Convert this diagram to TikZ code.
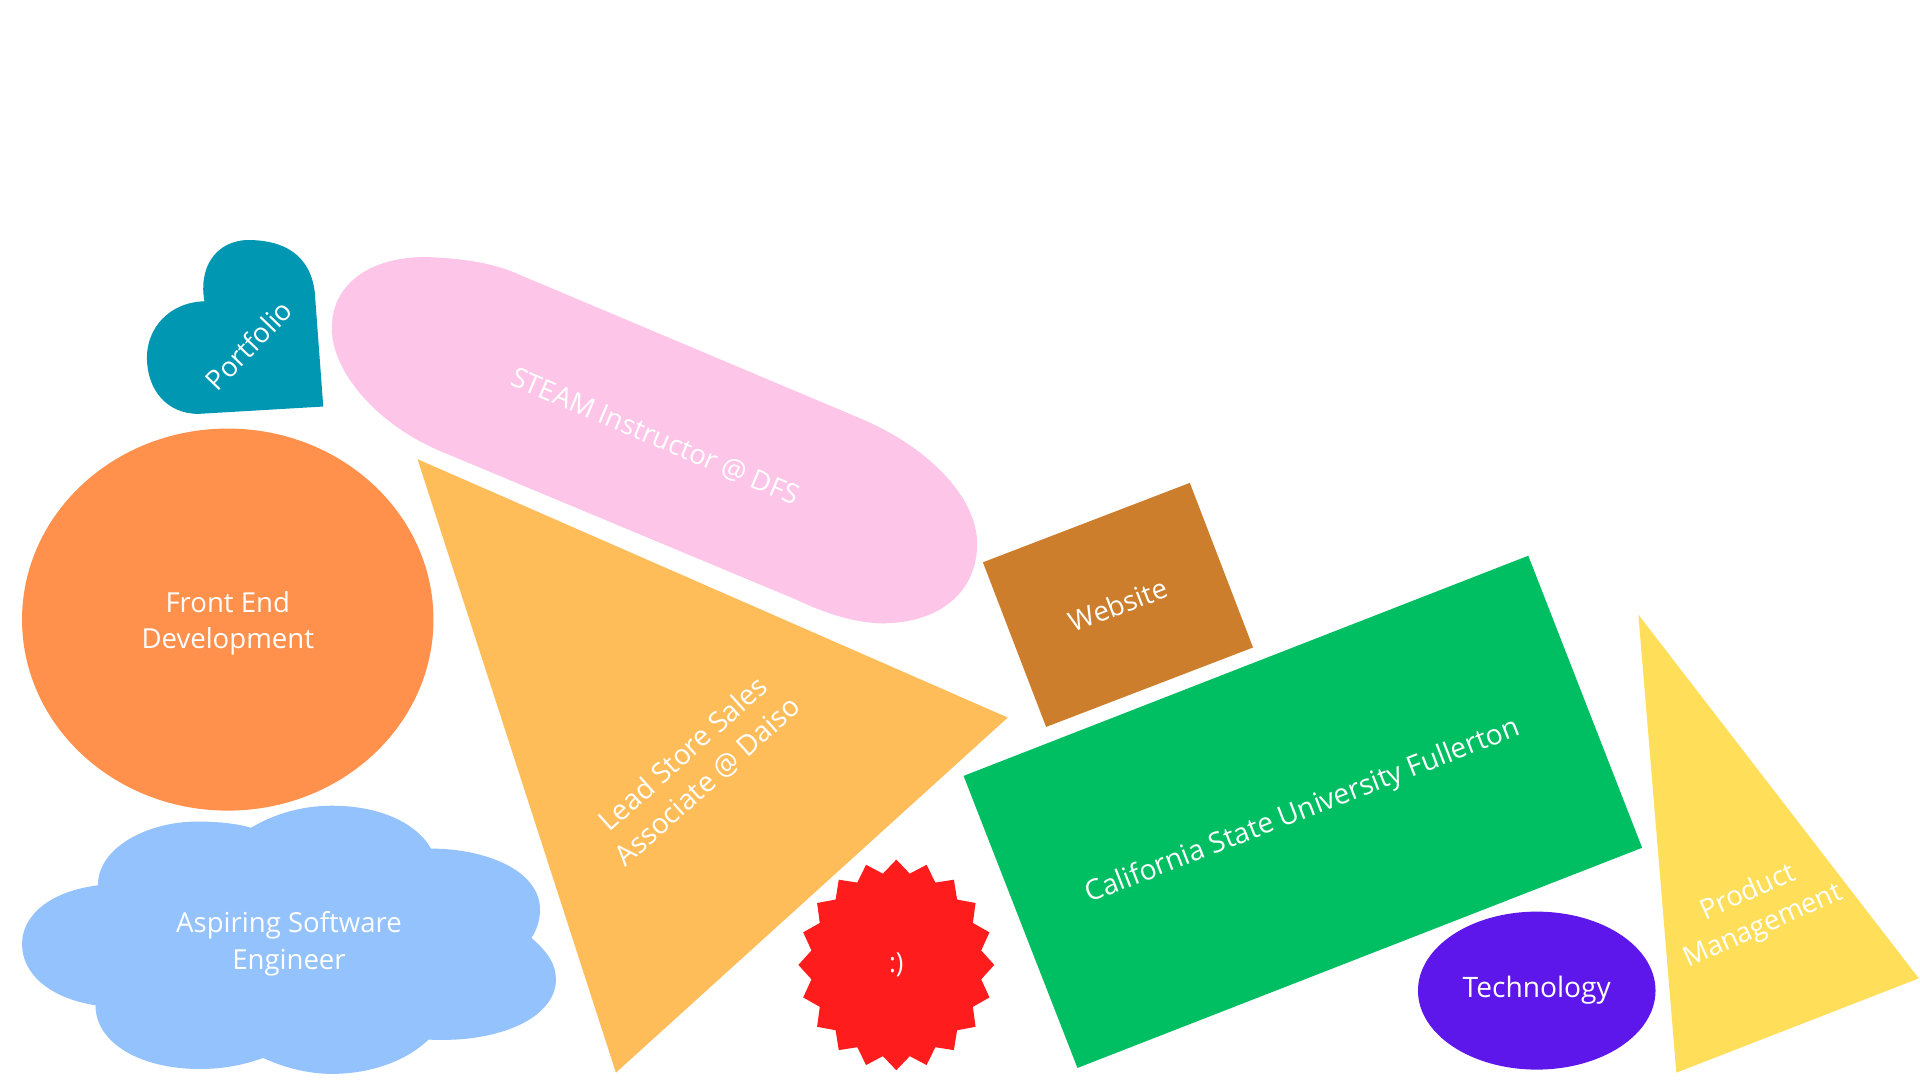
\documentclass[tikz,border=0pt]{standalone}
\usepackage{fontspec}
\setmainfont{Open Sans}
\usepackage{tikz}
\usetikzlibrary{shapes.geometric}
\definecolor{heartteal}{HTML}{0097B2}
\definecolor{steampink}{HTML}{FDC5E8}
\definecolor{frontorange}{HTML}{FF914D}
\definecolor{cloudblue}{HTML}{94C2FC}
\definecolor{daisoyellow}{HTML}{FEBD59}
\definecolor{smilered}{HTML}{FF1C1C}
\definecolor{webbrown}{HTML}{CC7E2C}
\definecolor{csufgreen}{HTML}{00BF63}
\definecolor{techpurple}{HTML}{5E17EB}
\definecolor{pmyellow}{HTML}{FFDE59}
\tikzset{
  label text/.style={text=white, align=center, inner sep=0pt, font=\fontsize{22.5}{30}\selectfont},
  blob/.style={draw=none, inner sep=0pt},
}

\begin{document}
\begin{tikzpicture}[x=1pt, y=-1pt]
    \useasboundingbox (0,0) rectangle (1568,882);
    \fill[white] (0,0) rectangle (1568,882);

    \fill[heartteal] (264,332) -- (257,238) .. controls (253,208) and (232,196) .. (202,196)
        .. controls (175,197) and (162,220) .. (167,246)
        .. controls (138,247) and (120,268) .. (120,292)
        .. controls (120,318) and (136,338) .. (162,338) -- cycle;
    \node[label text, rotate=46] (portfolio) at (203,282) {Portfolio};

    \fill[steampink] (421,223) -- (708,344) .. controls (765,370) and (798,410) .. (798,444)
        .. controls (798,485) and (765,510) .. (718,509)
        .. controls (695,508) and (672,500) .. (651,490) -- (361,369)
        .. controls (310,348) and (271,305) .. (271,268)
        .. controls (271,230) and (305,209) .. (350,210)
        .. controls (375,211) and (400,214) .. (421,223) -- cycle;
    \node[label text, rotate=-23] (steam) at (535,357) {STEAM Instructor @ DFS};

    \node[blob, ellipse, fill=frontorange, minimum width=336pt, minimum height=312pt] (frontend) at (186,506) {};
    \node[label text] (frontendtext) at (186,509) {Front End\\Development};

    \fill[cloudblue] (80,723) .. controls (80,690) and (125,670) .. (163,671)
        .. controls (180,671) and (195,673) .. (205,676)
        .. controls (225,664) and (248,658) .. (271,658)
        .. controls (310,658) and (340,672) .. (352,693)
        .. controls (395,693) and (441,710) .. (441,743)
        .. controls (441,752) and (438,760) .. (434,766)
        .. controls (448,778) and (454,788) .. (454,800)
        .. controls (454,830) and (410,852) .. (350,849)
        .. controls (330,868) and (300,877) .. (271,877)
        .. controls (250,877) and (230,871) .. (215,864)
        .. controls (198,870) and (182,873) .. (163,873)
        .. controls (115,873) and (78,852) .. (78,821)
        .. controls (40,815) and (18,795) .. (18,771)
        .. controls (18,748) and (40,728) .. (80,723) -- cycle;
    \node[label text] (aspiring) at (236,771) {Aspiring Software\\Engineer};

    \fill[daisoyellow] (341,375) -- (823,586) -- (503,876) -- cycle;
    \node[label text, rotate=42, font=\fontsize{23}{30}\selectfont] (daiso) at (568,627) {Lead Store Sales\\Associate @ Daiso};

    \node[blob, star, star points=20, star point ratio=1.14, minimum size=172pt, xscale=0.93, fill=smilered, label text] (smile) at (732,788) {:)};

    \node[blob, rectangle, fill=webbrown, minimum width=181pt, minimum height=144pt, rotate=21, label text] (website) at (913,494) {Website};

    \node[blob, rectangle, fill=csufgreen, minimum width=495pt, minimum height=256pt, rotate=21.3, label text, font=\fontsize{23}{30}\selectfont] (csuf) at (1064,663) {California State University Fullerton};

    \node[blob, ellipse, fill=techpurple, minimum width=194pt, minimum height=129pt, label text, font=\fontsize{23}{30}\selectfont] (tech) at (1255,809) {Technology};

    \fill[pmyellow] (1338,502) -- (1567,799) -- (1369,876) -- cycle;
    \node[label text, rotate=24] (product) at (1434,743) {Product\\Management};
\end{tikzpicture}
\end{document}
